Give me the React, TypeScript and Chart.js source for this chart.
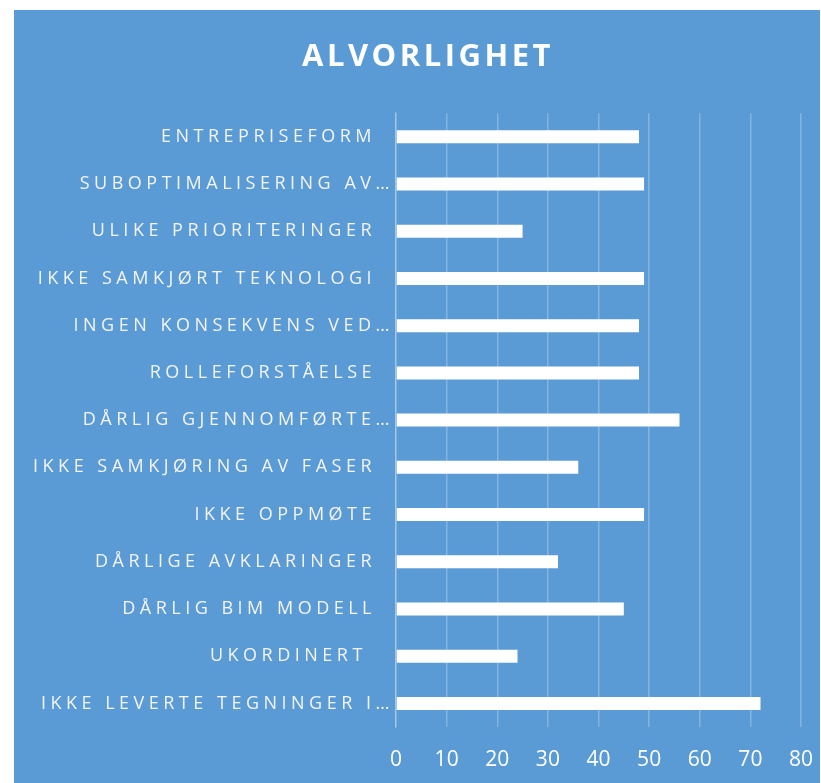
import React, { useEffect, useRef } from "react";
import { Chart, registerables } from "chart.js";

Chart.register(...registerables);

const TITLE = "ALVORLIGHET";
const CATEGORIES = [
  "ENTREPRISEFORM",
  "SUBOPTIMALISERING AV…",
  "ULIKE PRIORITERINGER",
  "IKKE SAMKJØRT TEKNOLOGI",
  "INGEN KONSEKVENS VED…",
  "ROLLEFORSTÅELSE",
  "DÅRLIG GJENNOMFØRTE…",
  "IKKE SAMKJØRING AV FASER",
  "IKKE OPPMØTE",
  "DÅRLIGE AVKLARINGER",
  "DÅRLIG BIM MODELL",
  "UKORDINERT ",
  "IKKE LEVERTE TEGNINGER I…",
];
const VALUES = [48, 49, 25, 49, 48, 48, 56, 36, 49, 32, 45, 24, 72];
const X_MIN = 0;
const X_MAX = 80;
const X_STEP = 10;

const BG = "#5B9BD5";
const GRID = "rgba(255,255,255,0.25)";
const FONT = "'Open Sans', sans-serif";
const LABEL_SPACING = "4.5px";
const TITLE_SPACING = "3.5px";
const TITLE_CENTER_X = 414;
const ELLIPSIS_SHIFT = 18;

const spacingPlugin = {
  id: "labelSpacing",
  beforeDraw(chart: any) {
    const s: any = chart.scales.y;
    if (s && !s.__patched) {
      s.__patched = true;
      const origDraw = s.drawLabels.bind(s);
      s.drawLabels = function (area: any) {
        const ctx = this.ctx;
        ctx.save();
        ctx.letterSpacing = LABEL_SPACING;
        origDraw(area);
        ctx.restore();
      };
      const origItems = s.getLabelItems.bind(s);
      s.getLabelItems = function (area: any) {
        const items = origItems(area);
        items.forEach((it: any) => {
          const lbl = String(it.label);
          if (!it.__shifted && lbl.endsWith("…")) {
            it.__shifted = true;
            it.options.translation[0] += ELLIPSIS_SHIFT;
          }
        });
        return items;
      };
    }
    const t: any = chart.titleBlock;
    if (t && !t.__patched) {
      t.__patched = true;
      const origT = t.draw.bind(t);
      t.draw = function () {
        const ctx = this.ctx;
        ctx.save();
        ctx.letterSpacing = TITLE_SPACING;
        ctx.translate(TITLE_CENTER_X - (this.left + this.right) / 2, 0);
        origT();
        ctx.restore();
      };
    }
  },
};

export default function App() {
  const ref = useRef<HTMLCanvasElement | null>(null);
  useEffect(() => {
    if (!ref.current) return;
    const chart = new Chart(ref.current, {
      type: "bar",
      data: {
        labels: CATEGORIES,
        datasets: [
          {
            data: VALUES,
            backgroundColor: "#FFFFFF",
            borderWidth: 0,
            barPercentage: 0.275,
            categoryPercentage: 1,
          },
        ],
      },
      plugins: [spacingPlugin],
      options: {
        indexAxis: "y",
        animation: false,
        responsive: false,
        maintainAspectRatio: false,
        layout: { padding: { left: 0, right: 19, top: 0, bottom: 0 } },
        plugins: {
          legend: { display: false },
          tooltip: { enabled: false },
          title: {
            display: true,
            text: TITLE,
            color: "#FFFFFF",
            font: { family: FONT, size: 31, weight: "bold", lineHeight: 1.2 },
            padding: { top: 29, bottom: 37 },
          },
        },
        scales: {
          x: {
            min: X_MIN,
            max: X_MAX,
            ticks: {
              stepSize: X_STEP,
              color: "#FFFFFF",
              font: { family: FONT, size: 21 },
              padding: 20,
            },
            grid: { color: GRID, lineWidth: 1.5, drawTicks: false },
            border: { display: false },
            afterFit: (s: any) => {
              s.height = 56;
              s.paddingLeft = 0;
              s.paddingRight = 0;
            },
          },
          y: {
            ticks: {
              color: "#F4F4F4",
              font: { family: FONT, size: 18 },
              padding: 20,
              autoSkip: false,
            },
            grid: { display: false, drawTicks: false },
            border: { display: true, color: GRID, width: 1.5 },
            afterFit: (s: any) => {
              s.width = 382;
            },
          },
        },
      },
    } as any);
    return () => chart.destroy();
  }, []);
  return (
    <div
      style={{
        position: "absolute",
        left: 14,
        top: 10,
        width: 806,
        height: 773,
        background: BG,
      }}
    >
      <canvas ref={ref} width={806} height={773} style={{ display: "block" }} />
    </div>
  );
}
